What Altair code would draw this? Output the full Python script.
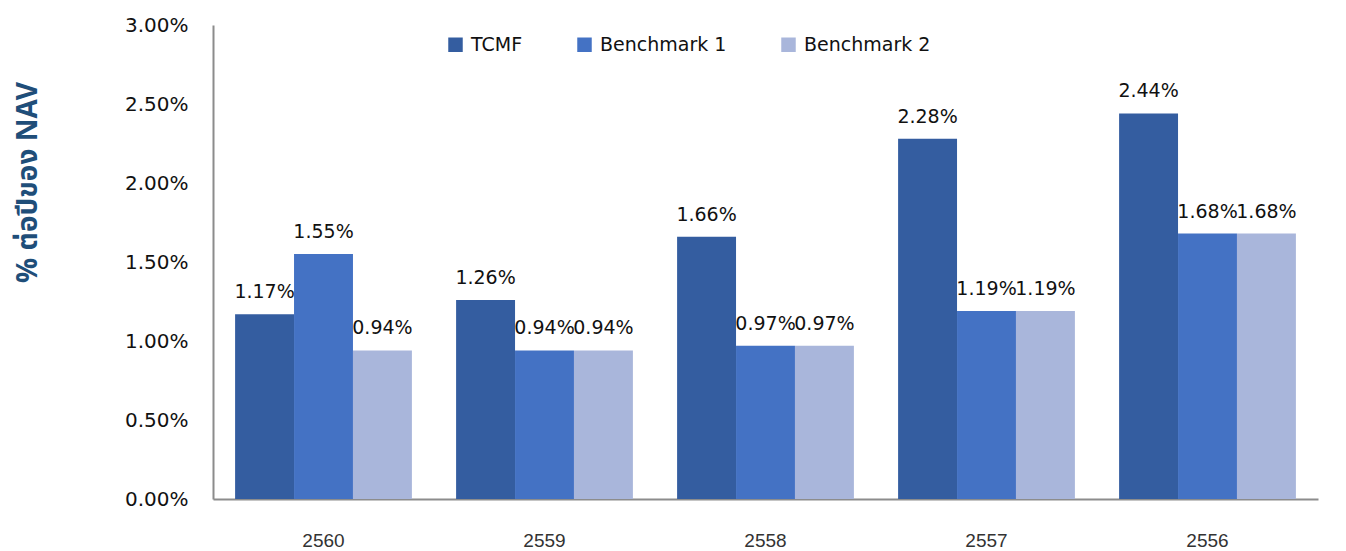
import altair as alt
import pandas as pd

years = ["2560", "2559", "2558", "2557", "2556"]
series = ["TCMF", "Benchmark 1", "Benchmark 2"]
tcmf = [1.17, 1.26, 1.66, 2.28, 2.44]
bench1 = [1.55, 0.94, 0.97, 1.19, 1.68]
bench2 = [0.94, 0.94, 0.97, 1.19, 1.68]
colors = ["#345DA0", "#4472C4", "#A9B6DB"]

rows = []
for i, y in enumerate(years):
    for s, vals in zip(series, [tcmf, bench1, bench2]):
        rows.append({"year": y, "series": s, "value": vals[i] / 100.0})
df = pd.DataFrame(rows)

x = alt.X("year:N", sort=years, title=None,
          scale=alt.Scale(paddingInner=0.2, paddingOuter=0.1),
          axis=alt.Axis(labelAngle=0, ticks=False, labelPadding=32, labelFontSize=19,
                        labelFont="Liberation Sans", labelColor="#333333",
                        domainColor="#8C8C8C", domainWidth=2))
xo = alt.XOffset("series:N", sort=series, scale=alt.Scale(paddingInner=0, paddingOuter=0))
y = alt.Y("value:Q", title="% ต่อปีของ NAV",
          scale=alt.Scale(domain=[0, 0.03], nice=False),
          axis=alt.Axis(format=".2%", values=[0, 0.005, 0.01, 0.015, 0.02, 0.025, 0.03],
                        ticks=False, grid=False, labelPadding=25, labelFontSize=20,
                        labelFont="DejaVu Sans", labelColor="#111111",
                        domainColor="#8C8C8C", domainWidth=2,
                        titleFontSize=28, titleFont="Noto Sans Thai, Noto Sans, DejaVu Sans",
                        titleFontWeight="bold", titleColor="#1F4E79",
                        titleX=-185, titleY=157, titleAngle=270,
                        titleAlign="center", titleBaseline="middle"))

bars = alt.Chart(df).mark_bar().encode(
    x=x, xOffset=xo, y=y,
    color=alt.Color("series:N", sort=series,
                    scale=alt.Scale(domain=series, range=colors),
                    legend=alt.Legend(title=None, orient="none", direction="horizontal",
                                      legendX=233, legendY=10, symbolType="square",
                                      symbolSize=210, symbolStrokeWidth=0,
                                      labelFontSize=19, labelFont="DejaVu Sans",
                                      labelColor="#111111", columnPadding=52,
                                      symbolOffset=0, labelOffset=6)),
)

labels = alt.Chart(df).mark_text(baseline="bottom", dy=-12, fontSize=19,
                                 font="DejaVu Sans", color="#111111").encode(
    x=x, xOffset=xo, y=y,
    text=alt.Text("value:Q", format=".2%"),
)

chart = (bars + labels).properties(
    width=1105, height=474,
    autosize=alt.AutoSizeParams(type="none"),
    padding={"left": 205, "top": 17, "right": 20, "bottom": 60},
).configure_view(stroke=None)

chart.save("out.html", embed_options={"renderer": "svg", "actions": False})
